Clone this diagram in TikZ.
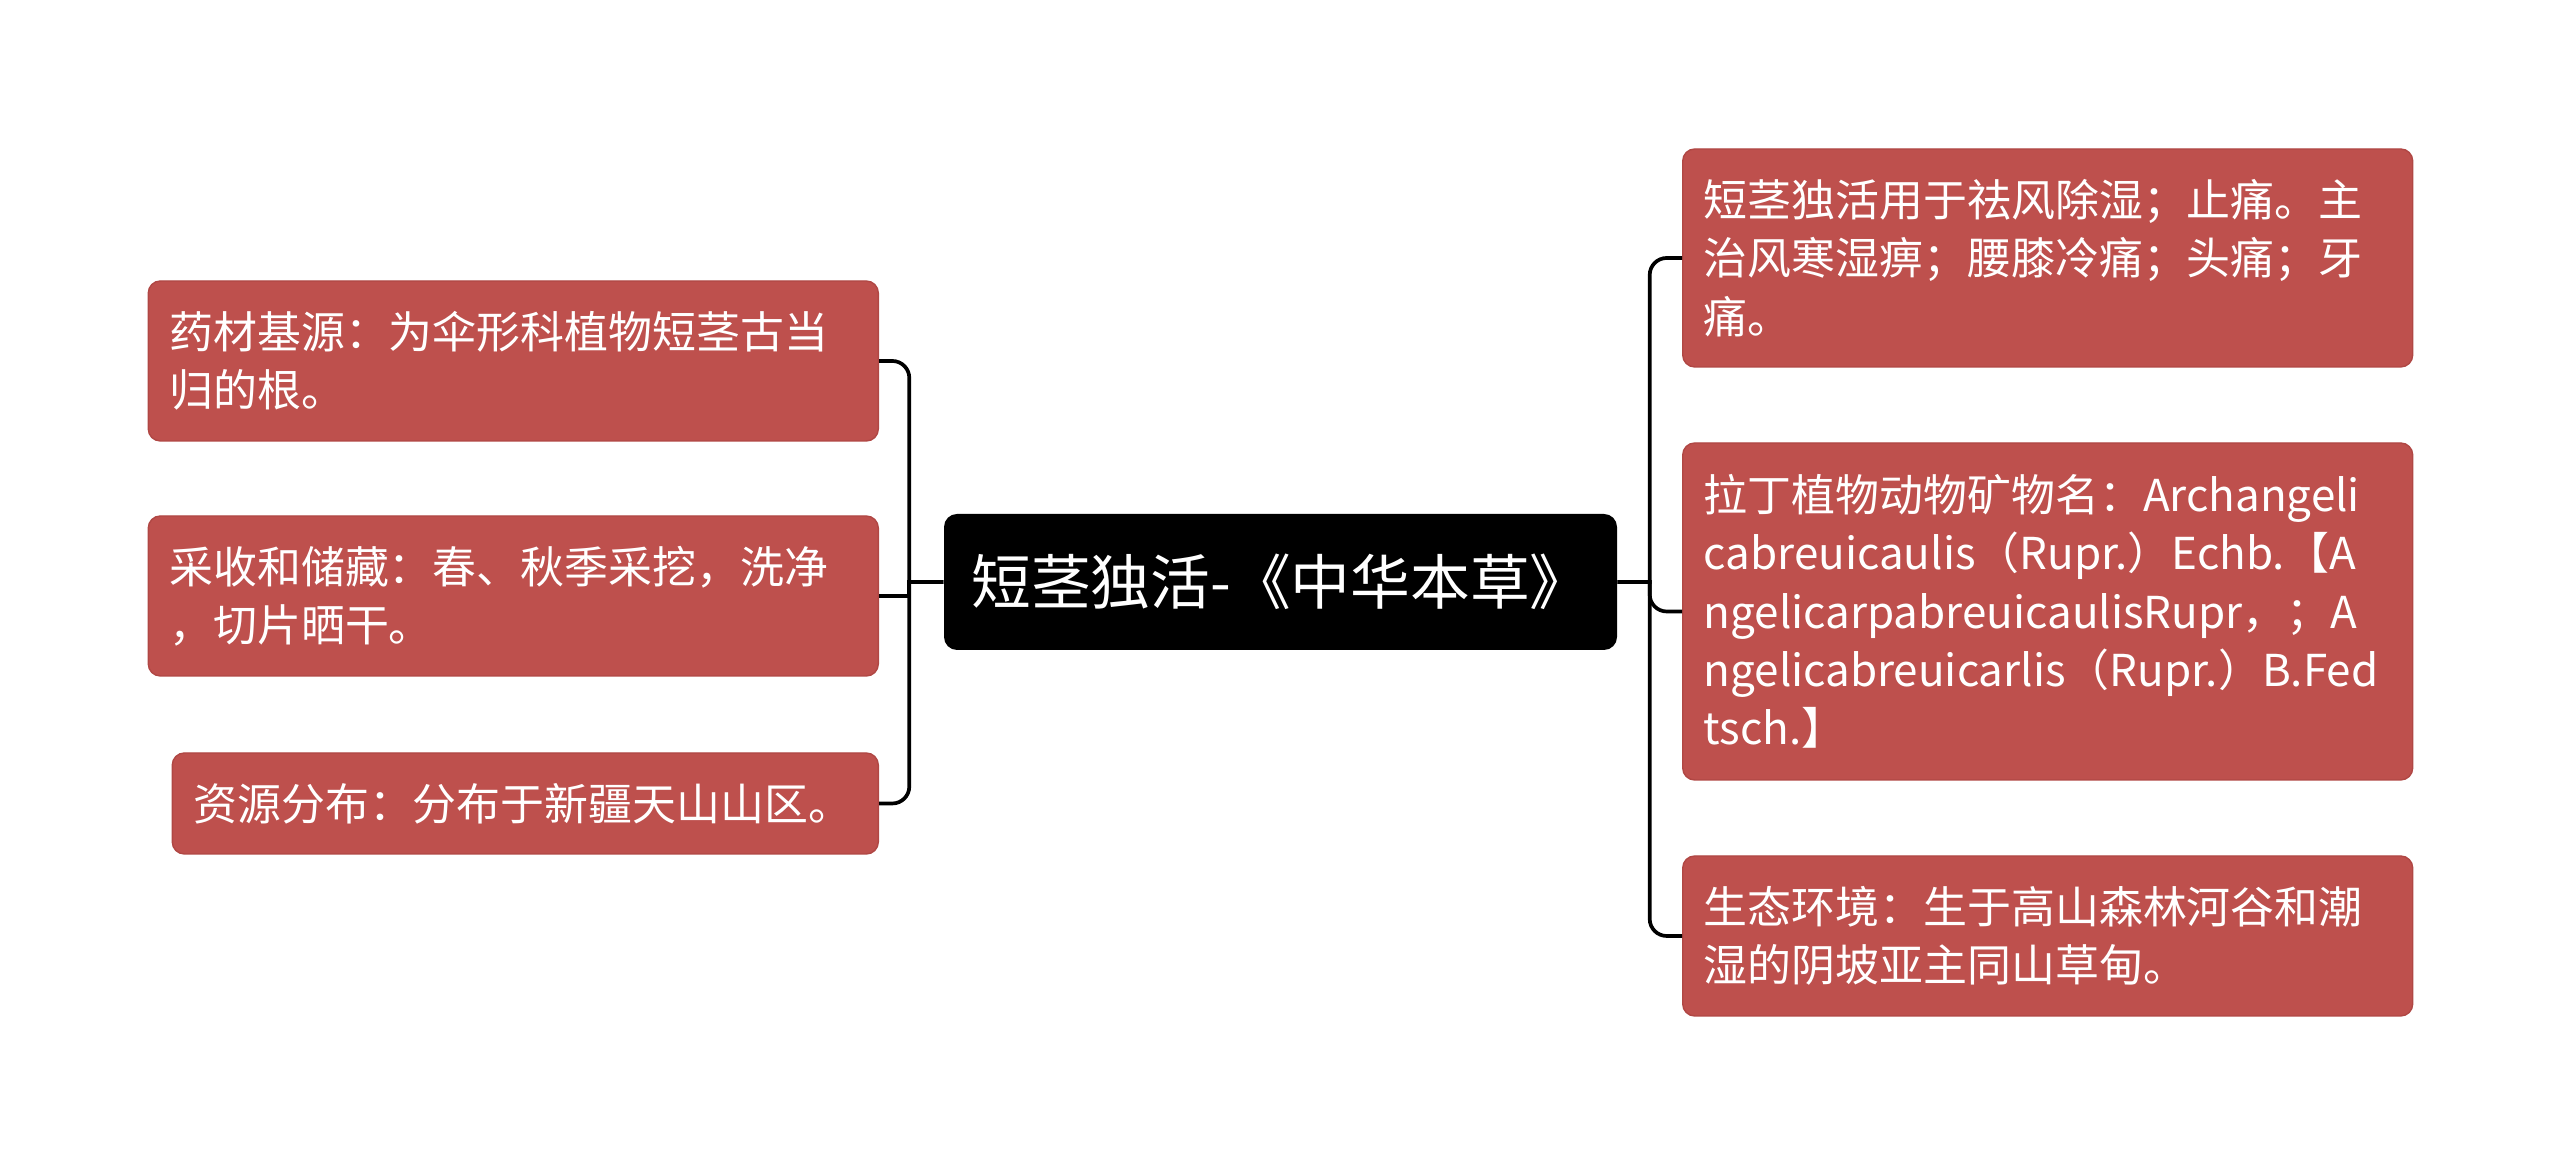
\documentclass[tikz,border=0pt]{standalone}
\usepackage{fontspec}
\setmainfont{Noto Sans CJK SC}
\usepackage{tikz}
\usetikzlibrary{positioning,arrows.meta,calc}
\usepackage{xcolor}
\definecolor{leafred}{HTML}{BE504D}
\definecolor{leafedge}{HTML}{B04744}

\begin{document}
\begin{tikzpicture}[
  root/.style={fill=black, text=white, rounded corners=1.3mm, minimum width=6.73cm, minimum height=1.36cm, font=\fontsize{17}{21}\selectfont},
  leaf/.style={draw=leafedge, line width=0.4pt, fill=leafred, text=white, rounded corners=1.2mm, align=left, inner xsep=2.1mm, inner ysep=0pt, text width=6.88cm, font=\fontsize{12.5}{16.6}\selectfont},
  link/.style={line width=1.05pt},
]
\useasboundingbox (0,0) rectangle (25.6,11.64);

% Root
\node[root] (root) at (12.805,5.82) {短茎独活-《中华本草》};

% Left branches
\node[leaf, anchor=east, minimum height=1.60cm] (source) at (8.79,8.03) {药材基源：为伞形科植物短茎古当\\归的根。};
\node[leaf, anchor=east, minimum height=1.60cm] (harvest) at (8.79,5.68) {采收和储藏：春、秋季采挖，洗净\\，切片晒干。};
\node[leaf, anchor=east, minimum height=1.01cm, text width=6.64cm] (range) at (8.79,3.605) {资源分布：分布于新疆天山山区。};

% Right branches
\node[leaf, anchor=west, minimum height=2.18cm] (usage) at (16.82,9.06) {短茎独活用于祛风除湿；止痛。主\\治风寒湿痹；腰膝冷痛；头痛；牙\\痛。};
\node[leaf, anchor=west, minimum height=3.37cm] (latin) at (16.82,5.525) {拉丁植物动物矿物名：Archangeli\\cabreuicaulis（Rupr.）Echb.【A\\ngelicarpabreuicaulisRupr，；A\\ngelicabreuicarlis（Rupr.）B.Fed\\tsch.】};
\node[leaf, anchor=west, minimum height=1.60cm] (habitat) at (16.82,2.28) {生态环境：生于高山森林河谷和潮\\湿的阴坡亚主同山草甸。};

% Links
\foreach \n in {source,range}
  \draw[link] (root.west) -- ++(-0.34,0) coordinate (jl) [rounded corners=1.7mm] -- (jl |- \n.east) -- (\n.east);
\draw[link] (root.west) -- ++(-0.34,0) coordinate (jl) -- (jl |- harvest.east) -- (harvest.east);
\foreach \n in {usage,latin,habitat}
  \draw[link] (root.east) -- ++(0.32,0) coordinate (jr) [rounded corners=1.7mm] -- (jr |- \n.west) -- (\n.west);

\end{tikzpicture}
\end{document}
